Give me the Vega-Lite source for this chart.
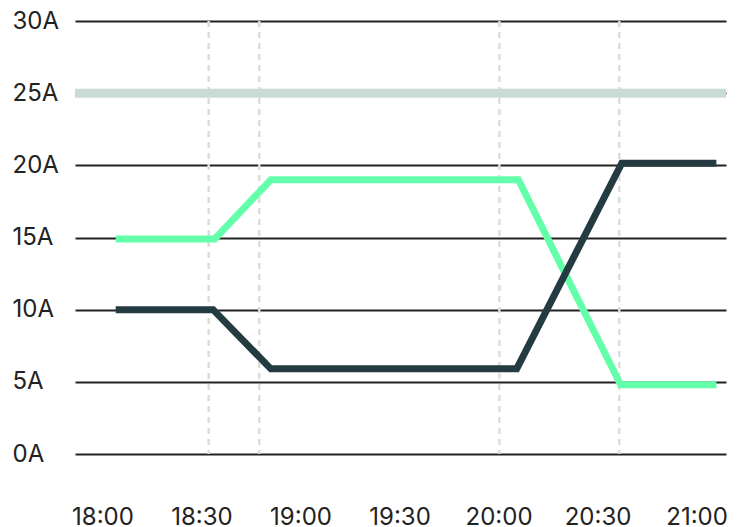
{
  "$schema": "https://vega.github.io/schema/vega-lite/v6.json",
  "width": 651,
  "height": 433,
  "autosize": {"type": "none"},
  "padding": {"left": 75, "top": 21, "right": 15, "bottom": 73},
  "background": "#ffffff",
  "datasets": {
    "current": [
      {"time": "2024-01-01T18:04:00", "amps": 14.9, "series": "green"},
      {"time": "2024-01-01T18:34:00", "amps": 14.9, "series": "green"},
      {"time": "2024-01-01T18:51:00", "amps": 19, "series": "green"},
      {"time": "2024-01-01T20:06:00", "amps": 19, "series": "green"},
      {"time": "2024-01-01T20:37:00", "amps": 4.8, "series": "green"},
      {"time": "2024-01-01T21:06:00", "amps": 4.8, "series": "green"},
      {"time": "2024-01-01T18:04:00", "amps": 10, "series": "dark"},
      {"time": "2024-01-01T18:33:30", "amps": 10, "series": "dark"},
      {"time": "2024-01-01T18:51:00", "amps": 5.9, "series": "dark"},
      {"time": "2024-01-01T20:05:30", "amps": 5.9, "series": "dark"},
      {"time": "2024-01-01T20:37:20", "amps": 20.15, "series": "dark"},
      {"time": "2024-01-01T21:06:00", "amps": 20.15, "series": "dark"}
    ],
    "markers": [
      {"time": "2024-01-01T18:32:10"},
      {"time": "2024-01-01T18:47:30"},
      {"time": "2024-01-01T20:00:15"},
      {"time": "2024-01-01T20:36:35"}
    ],
    "limit": [{"amps": 25}]
  },
  "layer": [
    {
      "data": {"name": "markers"},
      "mark": {"type": "rule", "color": "#dddddd", "strokeWidth": 2.5, "strokeDash": [6, 5]},
      "encoding": {
        "x": {"field": "time", "type": "temporal"}
      }
    },
    {
      "data": {"name": "limit"},
      "mark": {"type": "rule", "color": "#c8dcd4", "strokeWidth": 9},
      "encoding": {
        "y": {"field": "amps", "type": "quantitative"}
      }
    },
    {
      "data": {"name": "current"},
      "mark": {"type": "line", "strokeWidth": 7, "strokeCap": "butt", "strokeJoin": "miter"},
      "encoding": {
        "x": {
          "field": "time",
          "type": "temporal",
          "title": null,
          "scale": {
            "domain": [
              {"year": 2024, "month": 1, "date": 1, "hours": 17, "minutes": 51, "seconds": 40},
              {"year": 2024, "month": 1, "date": 1, "hours": 21, "minutes": 8, "seconds": 55}
            ]
          },
          "axis": {
            "values": [
              {"year": 2024, "month": 1, "date": 1, "hours": 18, "minutes": 0},
              {"year": 2024, "month": 1, "date": 1, "hours": 18, "minutes": 30},
              {"year": 2024, "month": 1, "date": 1, "hours": 19, "minutes": 0},
              {"year": 2024, "month": 1, "date": 1, "hours": 19, "minutes": 30},
              {"year": 2024, "month": 1, "date": 1, "hours": 20, "minutes": 0},
              {"year": 2024, "month": 1, "date": 1, "hours": 20, "minutes": 30},
              {"year": 2024, "month": 1, "date": 1, "hours": 21, "minutes": 0}
            ],
            "format": "%H:%M",
            "grid": false,
            "domain": false,
            "ticks": false,
            "tickSize": 0,
            "labelPadding": 70,
            "labelBaseline": "alphabetic",
            "labelAlign": "center",
            "labelFlush": false,
            "labelOverlap": false,
            "labelBound": false
          }
        },
        "y": {
          "field": "amps",
          "type": "quantitative",
          "title": null,
          "scale": {"domain": [0, 30], "nice": false},
          "axis": {
            "values": [0, 5, 10, 15, 20, 25, 30],
            "labelExpr": "datum.value + 'A'",
            "grid": true,
            "gridColor": "#222222",
            "gridWidth": 2,
            "domain": false,
            "ticks": false,
            "tickSize": 0,
            "labelAlign": "left",
            "labelBaseline": "middle",
            "labelPadding": 63,
            "labelOverlap": false
          }
        },
        "color": {
          "field": "series",
          "type": "nominal",
          "legend": null,
          "scale": {"domain": ["green", "dark"], "range": ["#64ffaa", "#243b42"]}
        }
      }
    }
  ],
  "config": {
    "view": {"stroke": null},
    "axis": {
      "labelFont": "Inter",
      "labelFontSize": 24,
      "labelColor": "#222222"
    }
  }
}
